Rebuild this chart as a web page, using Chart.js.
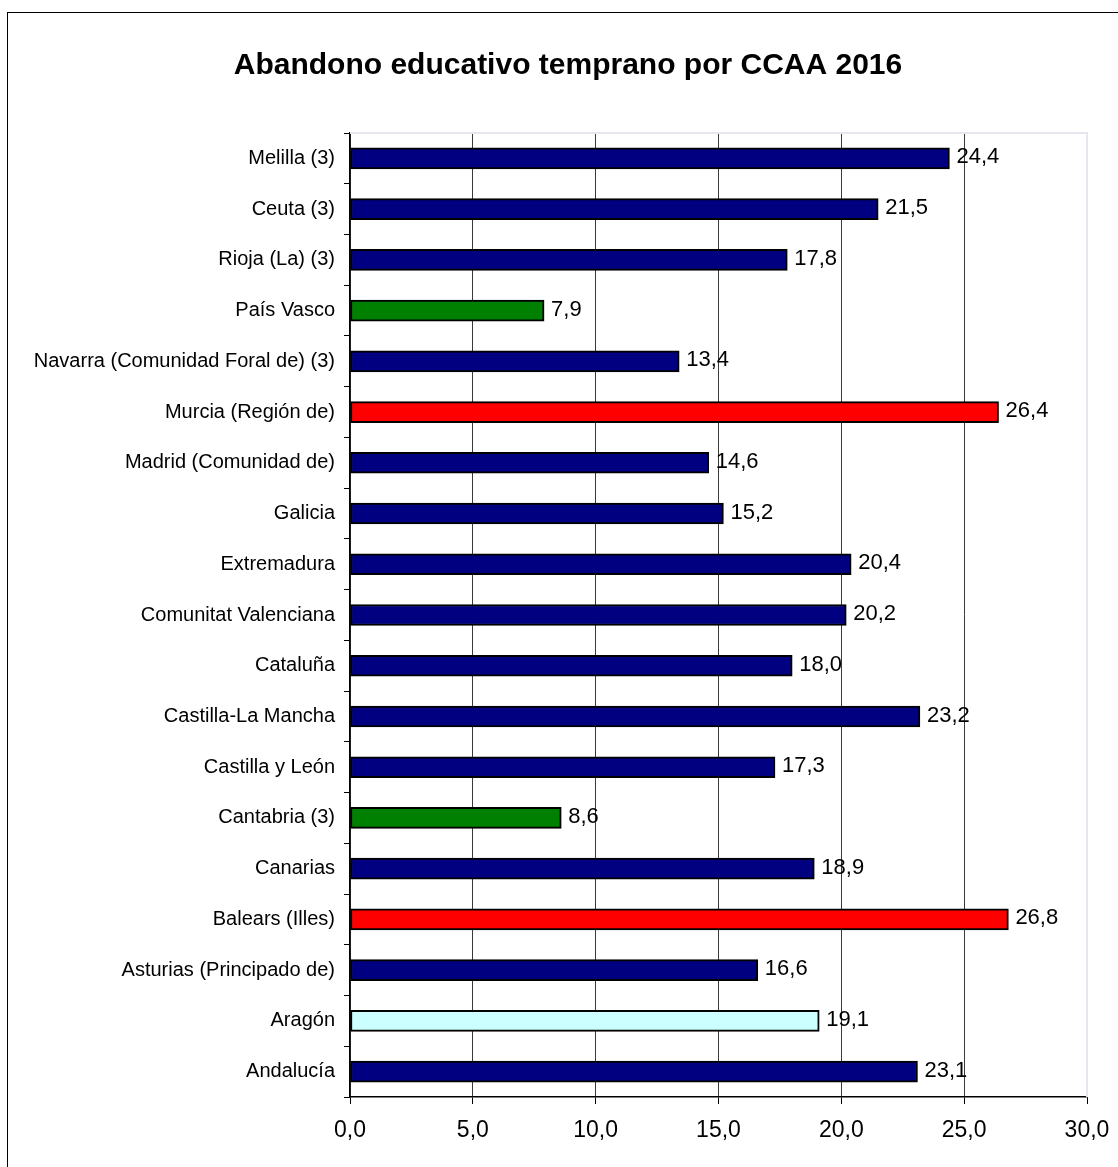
<!DOCTYPE html>
<html>
<head>
<meta charset="utf-8">
<script src="https://cdn.jsdelivr.net/npm/chart.js@4.4.1/dist/chart.umd.min.js"></script>
<style>
html,body{margin:0;padding:0;background:#fff;}
#wrap{width:1118px;height:1167px;position:relative;}
</style>
</head>
<body>
<div id="wrap"><canvas id="c" width="1118" height="1167"></canvas></div>
<script>
const titleText = 'Abandono educativo temprano por CCAA 2016';
const categories = [
  'Melilla (3)', 'Ceuta (3)', 'Rioja (La) (3)', 'País Vasco',
  'Navarra (Comunidad Foral de) (3)', 'Murcia (Región de)', 'Madrid (Comunidad de)',
  'Galicia', 'Extremadura', 'Comunitat Valenciana', 'Cataluña', 'Castilla-La Mancha',
  'Castilla y León', 'Cantabria (3)', 'Canarias', 'Balears (Illes)',
  'Asturias (Principado de)', 'Aragón', 'Andalucía'
];
const values = [24.4, 21.5, 17.8, 7.9, 13.4, 26.4, 14.6, 15.2, 20.4, 20.2, 18.0, 23.2, 17.3, 8.6, 18.9, 26.8, 16.6, 19.1, 23.1];
const barColors = ['#000080','#000080','#000080','#008000','#000080','#FF0000','#000080','#000080','#000080','#000080','#000080','#000080','#000080','#008000','#000080','#FF0000','#000080','#CCFFFF','#000080'];
const xTicks = [0, 5, 10, 15, 20, 25, 30];

const fmt = v => v.toFixed(1).replace('.', ',');

Chart.defaults.font.family = '"Liberation Sans", Arial, sans-serif';
Chart.defaults.color = '#000';

const decor = {
  id: 'decor',
  beforeDraw(chart) {
    const ctx = chart.ctx;
    ctx.save();
    ctx.fillStyle = '#fff';
    ctx.fillRect(0, 0, chart.width, chart.height);
    ctx.strokeStyle = '#000';
    ctx.lineWidth = 1;
    ctx.strokeRect(7.5, 12.5, 1200, 1300);
    ctx.fillStyle = '#000';
    ctx.font = 'bold 30px "Liberation Sans", Arial, sans-serif';
    ctx.textAlign = 'center';
    ctx.textBaseline = 'middle';
    ctx.fillText(titleText, 568, 66);
    ctx.restore();
  },
  beforeDatasetsDraw(chart) {
    const ctx = chart.ctx, a = chart.chartArea;
    ctx.save();
    ctx.strokeStyle = '#e6e6ee';
    ctx.lineWidth = 2;
    ctx.beginPath();
    ctx.moveTo(a.left, a.top);
    ctx.lineTo(a.right, a.top);
    ctx.lineTo(a.right, a.bottom);
    ctx.stroke();
    ctx.restore();
  },
  afterDatasetsDraw(chart) {
    const ctx = chart.ctx;
    const meta = chart.getDatasetMeta(0);
    ctx.save();
    ctx.fillStyle = '#000';
    ctx.font = '22px "Liberation Sans", Arial, sans-serif';
    ctx.textAlign = 'left';
    ctx.textBaseline = 'middle';
    meta.data.forEach((bar, i) => {
      ctx.fillText(fmt(values[i]), bar.x + 7, bar.y - 1);
    });
    ctx.restore();
  }
};

new Chart(document.getElementById('c'), {
  type: 'bar',
  data: {
    labels: categories,
    datasets: [{
      data: values,
      backgroundColor: barColors,
      borderColor: '#000',
      borderWidth: 2,
      borderSkipped: false,
      barThickness: 21
    }]
  },
  options: {
    indexAxis: 'y',
    responsive: false,
    animation: false,
    layout: { padding: { left: 0, right: 31, top: 133, bottom: 0 } },
    plugins: { legend: { display: false }, title: { display: false }, tooltip: { enabled: false } },
    scales: {
      x: {
        min: 0, max: 30,
        afterBuildTicks(scale) { scale.ticks = xTicks.map(v => ({ value: v })); },
        afterFit(scale) { scale.height = 70; scale.paddingLeft = 0; scale.paddingRight = 0; },
        ticks: {
          font: { size: 23 },
          padding: 13,
          callback: v => fmt(v)
        },
        grid: { color: '#3a3a3a', lineWidth: 1, drawTicks: true, tickLength: 7, tickColor: '#000' },
        border: { display: true, color: '#000', width: 1.5 }
      },
      y: {
        afterFit(scale) { scale.width = 350; scale.paddingTop = 0; scale.paddingBottom = 0; },
        ticks: { font: { size: 20 }, padding: 9, autoSkip: false },
        grid: { drawOnChartArea: false, drawTicks: true, tickLength: 6, color: '#000', offset: true },
        border: { display: true, color: '#000', width: 1.5 }
      }
    }
  },
  plugins: [decor]
});
</script>
</body>
</html>
